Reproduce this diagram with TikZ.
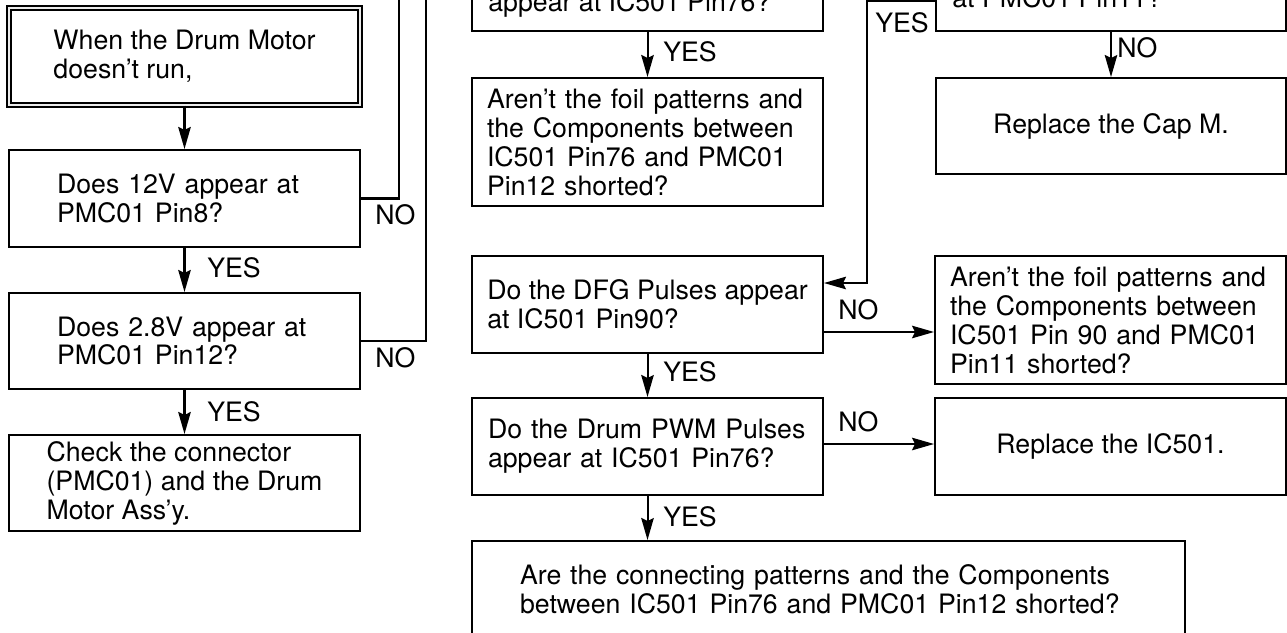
\documentclass[tikz,border=0pt]{standalone}
\usepackage{fontspec}
\setmainfont{TeX Gyre Heros}
\usetikzlibrary{arrows.meta,positioning,calc}
\newcommand{\boxfont}{\fontsize{15.2}{16.5}\selectfont}

\begin{document}
\begin{tikzpicture}[
    x=0.02cm, y=-0.02cm,
    qbox/.style={draw, line width=1.15pt, rectangle, inner ysep=0pt,
        minimum width=7.02cm, minimum height=1.94cm, align=left, font=\boxfont},
    startbox/.style={qbox, draw=black, double=gray!15, double distance=1.4pt,
        line width=0.85pt},
    lbl/.style={font=\boxfont, inner sep=0pt},
    wire/.style={line width=1.15pt},
    arrow/.style={wire, -{Stealth[length=0.44cm, width=0.25cm, inset=0.06cm]}},
]
\useasboundingbox (0,0) rectangle (1287,632);
\clip (0,0) rectangle (1287,632);

% ===== LEFT COLUMN =====
\node[startbox] (start) at (184.5,56.5) {When the Drum Motor\\doesn't run,};
\node[qbox, inner xsep=0.96cm, text width=5.1cm] (v12) at (184.5,198.5)
    {Does 12V appear at\\PMC01 Pin8?};
\node[qbox, inner xsep=0.96cm, text width=5.1cm, minimum height=1.92cm] (v28)
    at (184.5,341) {Does 2.8V appear at\\PMC01 Pin12?};
\node[qbox, minimum height=1.92cm] (chk) at (184.5,483)
    {Check the connector\\(PMC01) and the Drum\\Motor Ass'y.};

\draw[arrow] (start) -- (v12);
\draw[arrow] (v12) -- (v28);
\draw[arrow] (v28) -- (chk);
\node[lbl, anchor=west] (yes1) at (207,268) {YES};
\node[lbl, anchor=west] (yes2) at (207,412) {YES};

% NO branches leaving the top
\coordinate (up1) at (399,-40);
\coordinate (up2) at (426,-40);
\draw[wire] (v12.east) -| (up1);
\draw[wire] (v28.east) -| (up2);
\node[lbl, anchor=west] (no1) at (375,215) {NO};
\node[lbl, anchor=west] (no2) at (375,358) {NO};

% ===== MIDDLE COLUMN =====
\node[qbox, anchor=south] (mtop) at (647.5,32) {};
\node[lbl, anchor=base west] (mtoptxt) at (488,11) {appear at IC501 Pin76?};
\node[qbox, inner xsep=0.3cm, text width=6.42cm, minimum height=2.56cm] (foil1)
    at (647.5,142) {Aren't the foil patterns and\\the Components between\\IC501 Pin76 and PMC01\\Pin12 shorted?};
\node[qbox] (dfg) at (647.5,304.5) {Do the DFG Pulses appear\\at IC501 Pin90?};
\node[qbox, inner xsep=0.32cm, text width=6.38cm] (pwm) at (647.5,446.5)
    {Do the Drum PWM Pulses\\appear at IC501 Pin76?};
\node[qbox, minimum width=14.26cm, inner xsep=0.96cm, text width=12.34cm] (final)
    at (828.5,589.5) {Are the connecting patterns and the Components\\between IC501 Pin76 and PMC01 Pin12 shorted?};

\draw[arrow] (mtop) -- (foil1);
\draw[arrow] (dfg) -- (pwm);
\draw[arrow] (pwm.south) -- (pwm.south |- final.north);
\node[lbl, anchor=west] (yes3) at (663,52) {YES};
\node[lbl, anchor=west] (yes4) at (663,372) {YES};
\node[lbl, anchor=west] (yes5) at (663,517) {YES};

% ===== RIGHT COLUMN =====
\node[qbox, minimum width=7cm, anchor=south] (rtop) at (1111,32) {};
\node[lbl, anchor=base west] (rtoptxt) at (952,8) {at PMC01 Pin11?};
\node[qbox, minimum width=7cm, minimum height=1.92cm, align=center] (capm)
    at (1111,126) {Replace the Cap M.};
\node[qbox, inner xsep=0.3cm, text width=6.42cm, minimum height=2.56cm] (foil2)
    at (1110.5,320) {Aren't the foil patterns and\\the Components between\\IC501 Pin 90 and PMC01\\Pin11 shorted?};
\node[qbox, align=center] (ic) at (1110.5,446.5) {Replace the IC501.};

\draw[arrow] (rtop) -- (capm);
\node[lbl, anchor=west] (no3) at (1117,48) {NO};

\coordinate (ycorner) at (867,1);
\draw[arrow] (rtop.west |- ycorner) -- (ycorner) |- ([yshift=0.43cm]dfg.east);
\node[lbl, anchor=west] (yes6) at (875,23) {YES};

\draw[arrow] ([yshift=-0.55cm]dfg.east) -- ([yshift=-0.55cm]dfg.east -| foil2.west);
\draw[arrow] ([yshift=0.05cm]pwm.east) -- ([yshift=0.05cm]pwm.east -| ic.west);
\node[lbl, anchor=west] (no4) at (838,310) {NO};
\node[lbl, anchor=west] (no5) at (838,422) {NO};

\end{tikzpicture}
\end{document}
